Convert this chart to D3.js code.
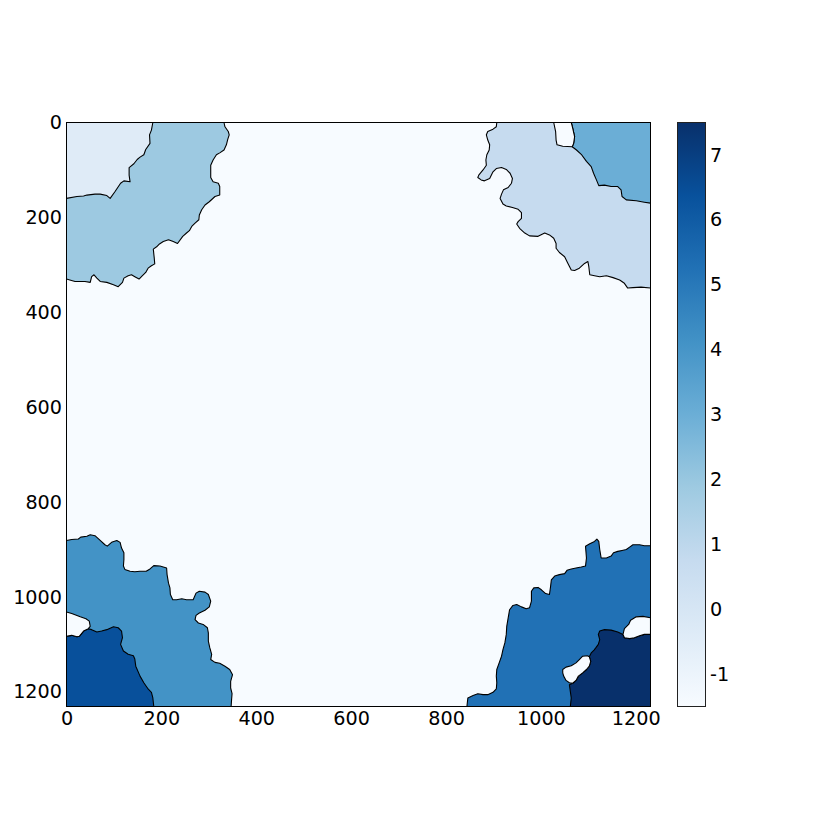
<!DOCTYPE html>
<html>
  <head>
    <meta charset="utf-8">
    <title>Region labels</title>
    <script src="https://d3js.org/d3.v7.min.js"></script>
    <style>
      body { margin: 0; background: #fff; }
      text { font-family: "DejaVu Sans", sans-serif; }
    </style>
  </head>
  <body>
    <div id="chart"></div>
    <script>
      // image size (pixels) and colour limits
      const size = 1231;
      const vmin = -1.5, vmax = 7.5;
      const xTicks = [0, 200, 400, 600, 800, 1000, 1200];
      const yTicks = [0, 200, 400, 600, 800, 1000, 1200];
      const cbTicks = [-1, 0, 1, 2, 3, 4, 5, 6, 7];
      const blues = ["#f7fbff", "#deebf7", "#c6dbef", "#9ecae1", "#6baed6",
                     "#4292c6", "#2171b5", "#08519c", "#08306b"];

      // value of each region
      const bgValue = -1.5;
      const regionValues = { tlBig: 1.9, tlCorner: -0.4, trBig: 0.75, trCorner: 3,
                             blBig: 4.1, blCorner: 6.4, brBig: 5.25, brCorner: 7.5, hole: -1.5 };

      // region boundaries in image coordinates (x, y)
      const tlBig = [[332,0],[334,9],[341,19],[343,26],[340,35],[337,47],[332,58],[323,64],[316,68],[309,79],[304,90],[304,104],[304,116],[309,125],[320,128],[323,135],[323,153],[313,156],[301,167],[292,174],[285,184],[280,195],[279,205],[271,212],[264,219],[259,228],[253,233],[245,240],[234,255],[225,251],[215,247],[204,251],[196,256],[190,262],[183,267],[184,277],[185,286],[186,298],[179,302],[172,307],[167,316],[158,325],[153,330],[144,325],[137,321],[130,323],[121,328],[118,337],[109,346],[99,342],[85,337],[71,335],[64,328],[58,321],[53,325],[50,337],[39,335],[29,335],[18,335],[7,332],[0,330]];
      const tlCorner = [[182,0],[179,16],[175,26],[176,44],[167,57],[163,68],[155,73],[149,78],[142,87],[132,95],[132,111],[134,125],[121,123],[114,128],[102,146],[92,160],[85,154],[71,151],[60,151],[43,153],[36,155],[22,156],[0,160]];
      const trBig = [[907,0],[906,9],[899,14],[888,19],[885,26],[888,37],[892,47],[891,58],[886,68],[884,79],[885,90],[878,100],[869,111],[867,116],[874,121],[881,123],[892,118],[899,104],[906,97],[917,95],[927,99],[935,107],[940,118],[938,128],[931,137],[921,142],[917,151],[914,160],[920,172],[927,176],[940,179],[952,183],[959,190],[959,202],[952,209],[949,214],[955,223],[966,233],[976,239],[994,240],[1008,233],[1018,237],[1027,244],[1032,255],[1032,265],[1039,274],[1050,283],[1057,297],[1064,311],[1071,312],[1081,307],[1092,297],[1099,293],[1101,304],[1103,321],[1113,323],[1124,325],[1138,323],[1152,327],[1166,332],[1176,339],[1183,349],[1194,348],[1211,347],[1231,349]];
      const trCorner = [[1064,0],[1067,12],[1071,30],[1069,44],[1066,51],[1075,58],[1085,67],[1096,82],[1106,93],[1111,107],[1117,121],[1122,133],[1134,132],[1148,135],[1162,135],[1169,142],[1171,156],[1180,163],[1201,165],[1218,168],[1231,170]];
      const trHole = [[1027,0],[1031,19],[1032,37],[1034,47],[1046,50],[1066,51],[1069,44],[1071,30],[1067,12],[1064,0]];
      const blBig = [[0,881],[11,879],[25,878],[30,874],[43,872],[50,869],[60,871],[71,881],[81,890],[86,893],[95,885],[106,881],[113,885],[116,897],[121,907],[121,921],[120,935],[123,942],[134,946],[144,947],[155,946],[168,946],[176,941],[184,934],[197,935],[211,939],[212,953],[215,971],[218,981],[219,995],[224,1006],[232,1006],[243,1004],[253,1006],[267,1006],[273,992],[280,988],[292,990],[299,995],[304,1009],[301,1021],[292,1028],[280,1034],[273,1039],[271,1048],[278,1055],[288,1058],[297,1065],[299,1076],[299,1093],[302,1107],[306,1121],[304,1132],[313,1138],[323,1140],[334,1146],[344,1153],[350,1164],[346,1178],[346,1192],[349,1204],[348,1216],[347,1231]];
      const blCorner = [[0,1083],[11,1081],[22,1084],[27,1083],[36,1072],[46,1067],[53,1069],[64,1074],[74,1072],[85,1069],[99,1063],[109,1065],[116,1072],[118,1086],[114,1100],[120,1114],[130,1121],[141,1124],[144,1131],[146,1146],[155,1167],[163,1181],[172,1194],[179,1201],[182,1213],[184,1231]];
      const blHole = [[0,1032],[11,1035],[29,1042],[41,1046],[48,1051],[50,1062],[46,1067],[36,1072],[27,1083],[22,1084],[11,1081],[0,1083]];
      const brBig = [[844,1231],[846,1213],[857,1208],[867,1204],[878,1206],[888,1206],[899,1201],[906,1194],[907,1181],[906,1167],[907,1153],[912,1139],[917,1125],[920,1111],[924,1097],[927,1079],[928,1062],[931,1044],[934,1027],[941,1018],[949,1016],[959,1021],[969,1025],[976,1023],[980,1009],[980,988],[985,981],[994,980],[1001,985],[1010,993],[1018,995],[1020,981],[1022,964],[1029,956],[1039,953],[1050,951],[1055,944],[1064,941],[1074,939],[1085,937],[1094,935],[1096,918],[1094,893],[1103,888],[1113,883],[1118,878],[1122,883],[1124,900],[1127,918],[1138,918],[1148,914],[1153,907],[1162,904],[1171,902],[1180,900],[1187,895],[1194,890],[1208,890],[1218,892],[1231,892]];
      const brCorner = [[1062,1231],[1064,1213],[1062,1199],[1060,1185],[1067,1182],[1074,1176],[1079,1167],[1088,1160],[1096,1153],[1102,1146],[1105,1136],[1102,1126],[1106,1118],[1112,1112],[1116,1107],[1121,1100],[1124,1090],[1121,1079],[1124,1072],[1134,1069],[1148,1070],[1162,1074],[1173,1079],[1176,1086],[1187,1088],[1197,1086],[1208,1082],[1218,1079],[1231,1079]];
      const brHoleLow = [[1046,1153],[1053,1148],[1064,1145],[1074,1139],[1081,1132],[1088,1125],[1098,1124],[1102,1126],[1105,1136],[1102,1146],[1096,1153],[1088,1160],[1079,1167],[1074,1176],[1067,1182],[1060,1181],[1053,1176],[1048,1167],[1046,1160]];
      const brHoleHigh = [[1173,1079],[1176,1067],[1185,1058],[1189,1049],[1201,1042],[1215,1041],[1231,1044],[1231,1079],[1218,1079],[1208,1082],[1197,1086],[1187,1088],[1176,1086],[1173,1079]];

      // table for drawing: boundary line plus the image corners that close it
      const regions = [
        { line: tlBig, corners: [[0,0]], value: regionValues.tlBig },
        { line: tlCorner, corners: [[0,0]], value: regionValues.tlCorner },
        { line: trBig, corners: [[size,0]], value: regionValues.trBig },
        { line: trCorner, corners: [[size,0]], value: regionValues.trCorner },
        { line: trHole, corners: [], value: regionValues.hole },
        { line: blBig, corners: [[0,size]], value: regionValues.blBig },
        { line: blCorner, corners: [[0,size]], value: regionValues.blCorner },
        { line: blHole, corners: [], value: regionValues.hole },
        { line: brBig, corners: [[size,size]], value: regionValues.brBig },
        { line: brCorner, corners: [[size,size]], value: regionValues.brCorner },
        { line: brHoleLow, corners: [], value: regionValues.hole, closed: true },
        { line: brHoleHigh, corners: [], value: regionValues.hole }
      ];

      const svg = d3.select("#chart").append("svg")
        .attr("width", 830)
        .attr("height", 830);

      const x = d3.scaleLinear().domain([0, size]).range([66.5, 650.5]);
      const y = d3.scaleLinear().domain([0, size]).range([122.5, 706.5]);
      const colour = d3.scaleLinear()
        .domain(blues.map((d, i) => vmin + i * (vmax - vmin) / (blues.length - 1)))
        .range(blues);

      svg.append("clipPath").attr("id", "plotClip")
        .append("rect")
          .attr("x", x(0)).attr("y", y(0))
          .attr("width", x(size) - x(0)).attr("height", y(size) - y(0));

      const plot = svg.append("g").attr("clip-path", "url(#plotClip)");
      plot.append("rect")
        .attr("x", x(0)).attr("y", y(0))
        .attr("width", x(size) - x(0)).attr("height", y(size) - y(0))
        .attr("fill", colour(bgValue));

      const line = d3.line().x(d => x(d[0])).y(d => y(d[1]));

      regions.forEach(function(r) {
        plot.append("path")
          .attr("d", line(r.line.concat(r.corners)) + "Z")
          .attr("fill", colour(r.value))
          .attr("stroke", "none");
        plot.append("path")
          .attr("d", line(r.line) + (r.closed ? "Z" : ""))
          .attr("fill", "none")
          .attr("stroke", "#000")
          .attr("stroke-width", 1.1)
          .attr("stroke-linejoin", "round");
      });

      // frame
      svg.append("rect")
        .attr("x", x(0)).attr("y", y(0))
        .attr("width", x(size) - x(0)).attr("height", y(size) - y(0))
        .attr("fill", "none")
        .attr("stroke", "#000")
        .attr("stroke-width", 1);

      // axes
      const fontSize = "19.2px";
      const xAxis = svg.append("g")
        .attr("transform", "translate(0," + y(size) + ")")
        .call(d3.axisBottom(x).tickValues(xTicks).tickSize(0).tickPadding(5).tickFormat(d => String(d)));
      const yAxis = svg.append("g")
        .attr("transform", "translate(" + x(0) + ",0)")
        .call(d3.axisLeft(y).tickValues(yTicks).tickSize(0).tickPadding(4.5).tickFormat(d => String(d)));
      [xAxis, yAxis].forEach(function(a) {
        a.select(".domain").remove();
        a.selectAll("text")
          .attr("fill", "#000")
          .style("font-size", fontSize)
          .style("font-family", "'DejaVu Sans', sans-serif");
      });

      // colour bar
      const cbX = 677.5, cbW = 28;
      const cbY = d3.scaleLinear().domain([vmin, vmax]).range([706.5, 122.5]);
      const grad = svg.append("defs").append("linearGradient")
        .attr("id", "cbGrad")
        .attr("x1", 0).attr("y1", 1).attr("x2", 0).attr("y2", 0);
      grad.selectAll("stop")
        .data(colour.domain())
        .enter().append("stop")
          .attr("offset", d => (d - vmin) / (vmax - vmin))
          .attr("stop-color", d => colour(d));
      svg.append("rect")
        .attr("x", cbX).attr("y", cbY(vmax))
        .attr("width", cbW).attr("height", cbY(vmin) - cbY(vmax))
        .attr("fill", "url(#cbGrad)")
        .attr("stroke", "#222")
        .attr("stroke-width", 1);
      const cbAxis = svg.append("g")
        .attr("transform", "translate(" + (cbX + cbW) + ",0)")
        .call(d3.axisRight(cbY).tickValues(cbTicks).tickSize(0).tickPadding(4.5).tickFormat(d => String(d)));
      cbAxis.select(".domain").remove();
      cbAxis.selectAll("text")
        .attr("fill", "#000")
        .style("font-size", fontSize)
        .style("font-family", "'DejaVu Sans', sans-serif");
    </script>
  </body>
</html>
